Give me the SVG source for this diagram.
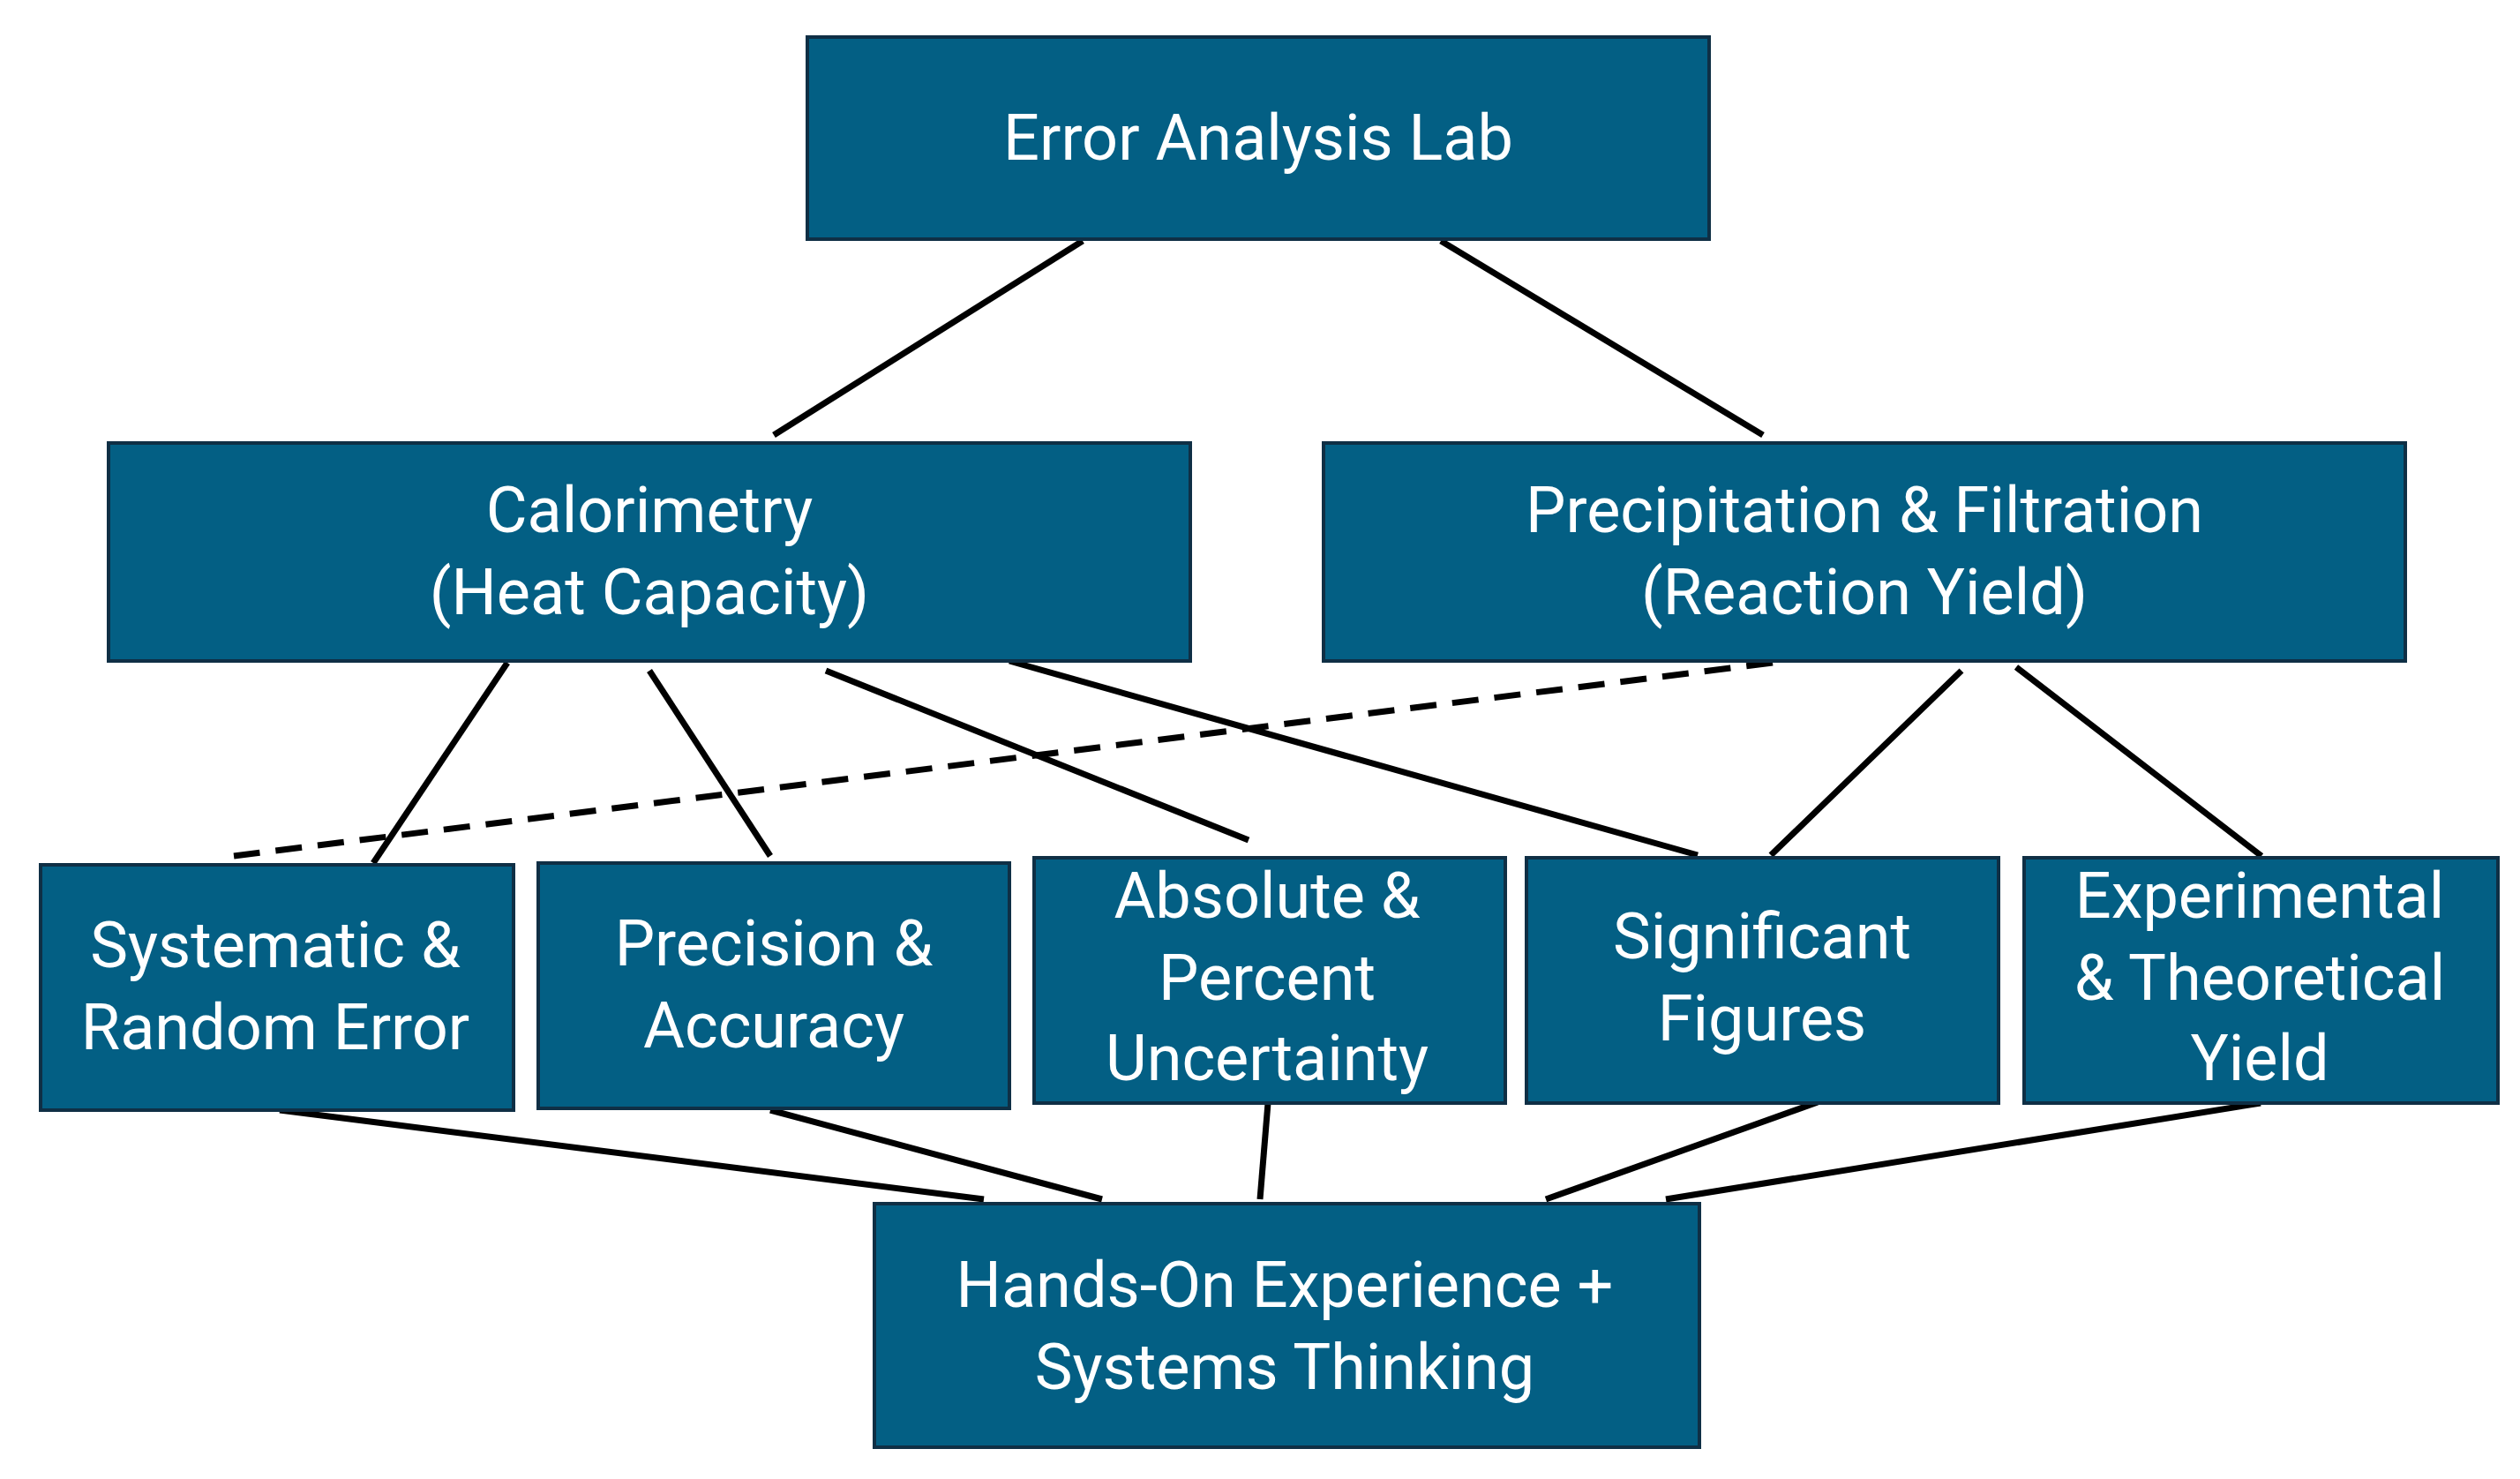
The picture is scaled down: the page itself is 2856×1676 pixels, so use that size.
<svg xmlns="http://www.w3.org/2000/svg" width="2856" height="1676" viewBox="0 0 2856 1676">
<style>
.b{fill:#035f84;stroke:#0f2f45;stroke-width:4}
.t{font-family:Roboto,"Liberation Sans",sans-serif;font-size:72px;fill:#fff;text-anchor:middle}
.l{stroke:#000;stroke-width:7;fill:none}
.d{stroke-dasharray:30 18}
</style>
<rect width="2856" height="1676" fill="#fff"/>
<g id="connectors">
<line class="l" x1="1227" y1="273" x2="877" y2="493"/>
<line class="l" x1="1633" y1="273" x2="1998" y2="493"/>
<line class="l" x1="575" y1="751" x2="423" y2="978"/>
<line class="l" x1="736" y1="760" x2="873" y2="970"/>
<line class="l" x1="936" y1="760" x2="1415" y2="952"/>
<line class="l" x1="1144" y1="749" x2="1924" y2="969"/>
<line class="l d" x1="2009" y1="751" x2="265" y2="970"/>
<line class="l" x1="2223" y1="760" x2="2007" y2="969"/>
<line class="l" x1="2285" y1="756" x2="2563" y2="970"/>
<line class="l" x1="317" y1="1258" x2="1115" y2="1359"/>
<line class="l" x1="873" y1="1258" x2="1249" y2="1359"/>
<line class="l" x1="1437" y1="1250" x2="1428" y2="1359"/>
<line class="l" x1="2060" y1="1249" x2="1752" y2="1359"/>
<line class="l" x1="2562" y1="1250" x2="1888" y2="1359"/>
</g>
<g id="top"><rect class="b" x="915" y="42" width="1022" height="229"/><text class="t" x="1426" y="181">Error Analysis Lab</text></g>
<g id="cal"><rect class="b" x="123" y="502" width="1226" height="247"/><text class="t" x="736" y="603">Calorimetry</text><text class="t" x="736" y="696">(Heat Capacity)</text></g>
<g id="prec"><rect class="b" x="1500" y="502" width="1226" height="247"/><text class="t" x="2113" y="603">Precipitation &amp; Filtration</text><text class="t" x="2113" y="696">(Reaction Yield)</text></g>
<g id="sys"><rect class="b" x="46" y="980" width="536" height="278"/><text class="t" x="312" y="1096">Systematic &amp;</text><text class="t" x="312" y="1189">Random Error</text></g>
<g id="pa"><rect class="b" x="610" y="978" width="534" height="278"/><text class="t" x="877" y="1094">Precision &amp;</text><text class="t" x="877" y="1187">Accuracy</text></g>
<g id="abs"><rect class="b" x="1172" y="972" width="534" height="278"/><text class="t" x="1436" y="1040">Absolute &amp;</text><text class="t" x="1436" y="1133">Percent</text><text class="t" x="1436" y="1224">Uncertainty</text></g>
<g id="sig"><rect class="b" x="1730" y="972" width="535" height="278"/><text class="t" x="1997" y="1086">Significant</text><text class="t" x="1997" y="1179">Figures</text></g>
<g id="exp"><rect class="b" x="2294" y="972" width="537" height="278"/><text class="t" x="2561" y="1040">Experimental</text><text class="t" x="2561" y="1133">&amp; Theoretical</text><text class="t" x="2561" y="1224">Yield</text></g>
<g id="bottom"><rect class="b" x="991" y="1364" width="935" height="276"/><text class="t" x="1456" y="1481">Hands-On Experience +</text><text class="t" x="1456" y="1574">Systems Thinking</text></g>
</svg>
